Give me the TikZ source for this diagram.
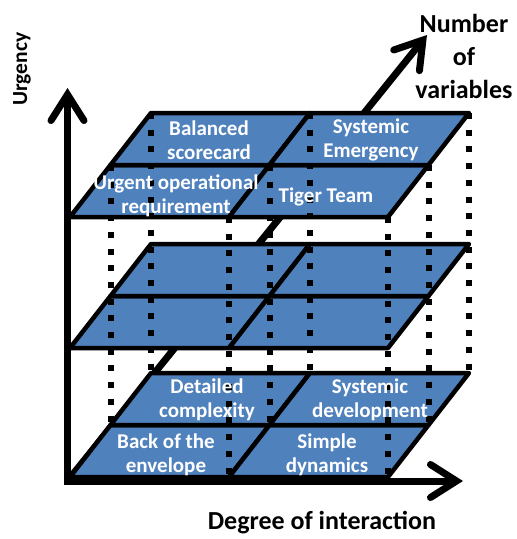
\documentclass[tikz,border=0pt]{standalone}
\usepackage{fontspec}
\setmainfont{Carlito}
\usepackage{xcolor}
\usetikzlibrary{arrows.meta,calc}
\definecolor{planeblue}{RGB}{79,129,189}

\begin{document}
\begin{tikzpicture}[x=1pt,y=-1pt,
  plane/.style={draw=black,fill=planeblue,line width=4.5pt,line join=round},
  axis/.style={line width=7pt,-{Straight Barb[length=26pt,width=33pt,line cap=round]}},
  guide/.style={line width=6pt,dash pattern=on 6pt off 10.7pt},
  cell/.style={text=white,font=\bfseries\fontsize{21}{24.5}\selectfont,align=center,inner sep=0pt},
  title/.style={font=\bfseries\fontsize{26}{33}\selectfont,align=center,inner sep=0pt}]
  \useasboundingbox (0,0) rectangle (517,539);
  % axes end points
  \coordinate (orig) at (67.5,481);
  \coordinate (utip) at (67.5,88);
  \coordinate (dtip) at (463,481);
  \coordinate (vtip) at (427,35);
  \draw[axis] (orig) -- (vtip);
  % three planes, corners (plane-col-row)
  \foreach \yf/\pl in {477/low,348/mid,217/high}{
    \foreach \i in {0,1,2}{
      \foreach \j in {0,1,2}{
        \coordinate (\pl-\i-\j) at ({70+159*\i+40.5*\j},{\yf-52*\j});
      }
    }
    \foreach \i/\ii in {0/1,1/2}{
      \foreach \j/\jj in {0/1,1/2}{
        \draw[plane] (\pl-\i-\j) -- (\pl-\ii-\j) -- (\pl-\ii-\jj) -- (\pl-\i-\jj) -- cycle;
      }
    }
  }
  % dotted posts between planes
  \foreach \i/\j in {1/0,2/0,0/1,1/1,2/1,0/2,1/2,2/2}{
    \draw[guide] (high-\i-\j) -- (low-\i-\j);
  }
  \draw[axis] ($(orig)+(0,4)$) -- (utip);
  \draw[axis] ($(orig)+(-4,0)$) -- (dtip);
  % cell labels
  \node[cell] (bal) at (209,140) {Balanced\\scorecard};
  \node[cell] (sysem) at (371,140) {Systemic\\Emergency};
  \node[cell] (urg) at (176,196) {Urgent operational\\requirement};
  \node[cell] (tiger) at (326,197) {Tiger Team};
  \node[cell] (det) at (207,400) {Detailed\\complexity};
  \node[cell] (sysdev) at (370,400) {Systemic\\development};
  \node[cell] (env) at (166,455) {Back of the\\envelope};
  \node[cell] (simple) at (327,455) {Simple\\dynamics};
  % axis titles
  \node[title] (nvar) at (464,56) {Number\\of\\variables};
  \node[title] (inter) at (322,523) {Degree of interaction};
  \node[title,font=\bfseries\fontsize{21.5}{26}\selectfont,rotate=90] (urgency) at (22,69) {Urgency};
\end{tikzpicture}
\end{document}
